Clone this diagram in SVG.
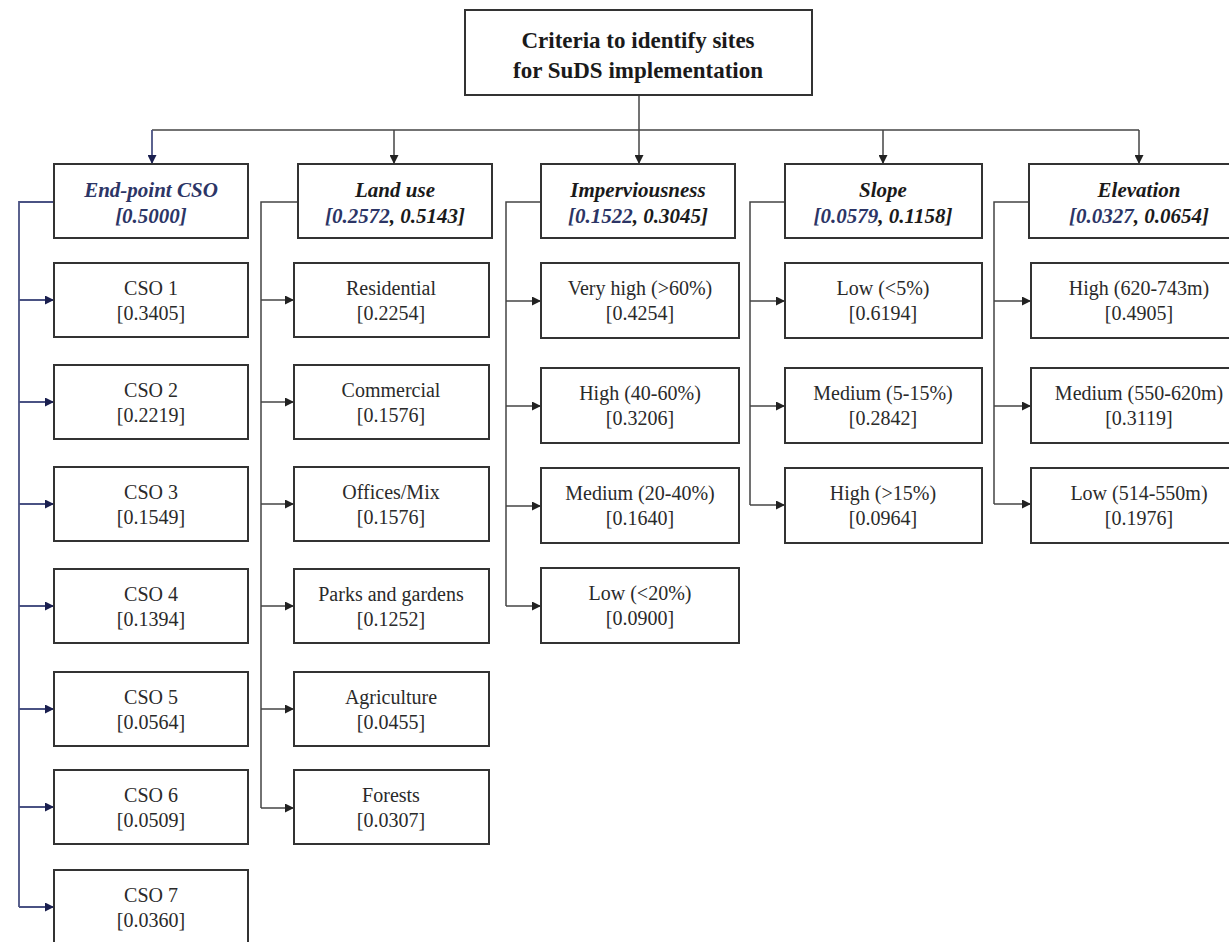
<svg xmlns="http://www.w3.org/2000/svg" width="1229" height="942" viewBox="0 0 1229 942">
<style>
.box{fill:#fff;stroke:#333;stroke-width:2}
text{font-family:'Liberation Serif','Tinos','Times New Roman','DejaVu Serif',serif}
.t{font-size:20px;fill:#2a2a2a;text-anchor:middle}
.h{font-size:21px;font-weight:bold;font-style:italic;fill:#1a1a1a;text-anchor:middle}
.nv{fill:#2c3566}
.ti{font-size:23px;font-weight:bold;fill:#1a1a1a;text-anchor:middle}
.c{fill:none;stroke:#444;stroke-width:1.5}
.cn{fill:none;stroke:#4a5283;stroke-width:1.8}
</style>
<defs>
<marker id="a" viewBox="0 0 10 10" refX="10" refY="5" markerWidth="9" markerHeight="9" markerUnits="userSpaceOnUse" orient="auto"><path d="M0,0L10,5L0,10z" fill="#222"/></marker>
<marker id="an" viewBox="0 0 10 10" refX="10" refY="5" markerWidth="9" markerHeight="9" markerUnits="userSpaceOnUse" orient="auto"><path d="M0,0L10,5L0,10z" fill="#1a1f4f"/></marker>
</defs>
<rect width="1229" height="942" fill="#fff"/>
<g id="connectors">
<path class="c" d="M639,95V164" marker-end="url(#a)"/>
<path class="c" d="M152,130H1139"/>
<path class="cn" d="M152,130V164" marker-end="url(#an)"/>
<path class="c" d="M394,130V164" marker-end="url(#a)"/>
<path class="c" d="M883,130V164" marker-end="url(#a)"/>
<path class="c" d="M1139,130V164" marker-end="url(#a)"/>
<path class="cn" d="M54,202H19V907"/>
<path class="cn" d="M19,300H54" marker-end="url(#an)"/>
<path class="cn" d="M19,402H54" marker-end="url(#an)"/>
<path class="cn" d="M19,504H54" marker-end="url(#an)"/>
<path class="cn" d="M19,606H54" marker-end="url(#an)"/>
<path class="cn" d="M19,709H54" marker-end="url(#an)"/>
<path class="cn" d="M19,807H54" marker-end="url(#an)"/>
<path class="cn" d="M19,907H54" marker-end="url(#an)"/>
<path class="c" d="M298,202H261V808"/>
<path class="c" d="M261,300H294" marker-end="url(#a)"/>
<path class="c" d="M261,402H294" marker-end="url(#a)"/>
<path class="c" d="M261,504H294" marker-end="url(#a)"/>
<path class="c" d="M261,606H294" marker-end="url(#a)"/>
<path class="c" d="M261,709H294" marker-end="url(#a)"/>
<path class="c" d="M261,808H294" marker-end="url(#a)"/>
<path class="c" d="M541,202H506V606"/>
<path class="c" d="M506,301H541" marker-end="url(#a)"/>
<path class="c" d="M506,406H541" marker-end="url(#a)"/>
<path class="c" d="M506,506H541" marker-end="url(#a)"/>
<path class="c" d="M506,606H541" marker-end="url(#a)"/>
<path class="c" d="M785,202H750V505"/>
<path class="c" d="M750,301H785" marker-end="url(#a)"/>
<path class="c" d="M750,406H785" marker-end="url(#a)"/>
<path class="c" d="M750,505H785" marker-end="url(#a)"/>
<path class="c" d="M1029,202H994V504"/>
<path class="c" d="M994,301H1031" marker-end="url(#a)"/>
<path class="c" d="M994,406H1031" marker-end="url(#a)"/>
<path class="c" d="M994,504H1031" marker-end="url(#a)"/>
</g>
<g id="root"><rect class="box" x="465" y="10" width="347" height="85"/><text class="ti" x="638" y="48">Criteria to identify sites</text><text class="ti" x="638" y="78">for SuDS implementation</text></g>
<g id="endpoint"><rect class="box" x="54" y="164" width="194" height="74"/><text class="h" x="151" y="197" style="fill:#2c3566">End-point CSO</text><text class="h" x="151" y="223" style="fill:#2c3566">[0.5000]</text></g>
<g id="landuse"><rect class="box" x="298" y="164" width="194" height="74"/><text class="h" x="395" y="197">Land use</text><text class="h" x="395" y="223"><tspan class="nv">[0.2572</tspan>, 0.5143]</text></g>
<g id="imperv"><rect class="box" x="541" y="164" width="194" height="74"/><text class="h" x="638" y="197">Imperviousness</text><text class="h" x="638" y="223"><tspan class="nv">[0.1522</tspan>, 0.3045]</text></g>
<g id="slope"><rect class="box" x="785" y="164" width="197" height="74"/><text class="h" x="883" y="197">Slope</text><text class="h" x="883" y="223"><tspan class="nv">[0.0579</tspan>, 0.1158]</text></g>
<g id="elevation"><rect class="box" x="1029" y="164" width="220" height="74"/><text class="h" x="1139" y="197">Elevation</text><text class="h" x="1139" y="223"><tspan class="nv">[0.0327</tspan>, 0.0654]</text></g>

<g id="cso1"><rect class="box" x="54" y="263" width="194" height="74"/><text class="t" x="151" y="295">CSO 1</text><text class="t" x="151" y="320">[0.3405]</text></g>
<g id="cso2"><rect class="box" x="54" y="365" width="194" height="74"/><text class="t" x="151" y="397">CSO 2</text><text class="t" x="151" y="422">[0.2219]</text></g>
<g id="cso3"><rect class="box" x="54" y="467" width="194" height="74"/><text class="t" x="151" y="499">CSO 3</text><text class="t" x="151" y="524">[0.1549]</text></g>
<g id="cso4"><rect class="box" x="54" y="569" width="194" height="74"/><text class="t" x="151" y="601">CSO 4</text><text class="t" x="151" y="626">[0.1394]</text></g>
<g id="cso5"><rect class="box" x="54" y="672" width="194" height="74"/><text class="t" x="151" y="704">CSO 5</text><text class="t" x="151" y="729">[0.0564]</text></g>
<g id="cso6"><rect class="box" x="54" y="770" width="194" height="74"/><text class="t" x="151" y="802">CSO 6</text><text class="t" x="151" y="827">[0.0509]</text></g>
<g id="cso7"><rect class="box" x="54" y="870" width="194" height="80"/><text class="t" x="151" y="902">CSO 7</text><text class="t" x="151" y="927">[0.0360]</text></g>

<g id="residential"><rect class="box" x="294" y="263" width="195" height="74"/><text class="t" x="391" y="295">Residential</text><text class="t" x="391" y="320">[0.2254]</text></g>
<g id="commercial"><rect class="box" x="294" y="365" width="195" height="74"/><text class="t" x="391" y="397">Commercial</text><text class="t" x="391" y="422">[0.1576]</text></g>
<g id="offices"><rect class="box" x="294" y="467" width="195" height="74"/><text class="t" x="391" y="499">Offices/Mix</text><text class="t" x="391" y="524">[0.1576]</text></g>
<g id="parks"><rect class="box" x="294" y="569" width="195" height="74"/><text class="t" x="391" y="601">Parks and gardens</text><text class="t" x="391" y="626">[0.1252]</text></g>
<g id="agriculture"><rect class="box" x="294" y="672" width="195" height="74"/><text class="t" x="391" y="704">Agriculture</text><text class="t" x="391" y="729">[0.0455]</text></g>
<g id="forests"><rect class="box" x="294" y="770" width="195" height="74"/><text class="t" x="391" y="802">Forests</text><text class="t" x="391" y="827">[0.0307]</text></g>

<g id="imp-vh"><rect class="box" x="541" y="263" width="198" height="75"/><text class="t" x="640" y="295">Very high (&gt;60%)</text><text class="t" x="640" y="320">[0.4254]</text></g>
<g id="imp-h"><rect class="box" x="541" y="368" width="198" height="75"/><text class="t" x="640" y="400">High (40-60%)</text><text class="t" x="640" y="425">[0.3206]</text></g>
<g id="imp-m"><rect class="box" x="541" y="468" width="198" height="75"/><text class="t" x="640" y="500">Medium (20-40%)</text><text class="t" x="640" y="525">[0.1640]</text></g>
<g id="imp-l"><rect class="box" x="541" y="568" width="198" height="75"/><text class="t" x="640" y="600">Low (&lt;20%)</text><text class="t" x="640" y="625">[0.0900]</text></g>

<g id="slope-l"><rect class="box" x="785" y="263" width="197" height="75"/><text class="t" x="883" y="295">Low (&lt;5%)</text><text class="t" x="883" y="320">[0.6194]</text></g>
<g id="slope-m"><rect class="box" x="785" y="368" width="197" height="75"/><text class="t" x="883" y="400">Medium (5-15%)</text><text class="t" x="883" y="425">[0.2842]</text></g>
<g id="slope-h"><rect class="box" x="785" y="468" width="197" height="75"/><text class="t" x="883" y="500">High (&gt;15%)</text><text class="t" x="883" y="525">[0.0964]</text></g>

<g id="elev-h"><rect class="box" x="1031" y="263" width="218" height="75"/><text class="t" x="1139" y="295">High (620-743m)</text><text class="t" x="1139" y="320">[0.4905]</text></g>
<g id="elev-m"><rect class="box" x="1031" y="368" width="218" height="75"/><text class="t" x="1139" y="400">Medium (550-620m)</text><text class="t" x="1139" y="425">[0.3119]</text></g>
<g id="elev-l"><rect class="box" x="1031" y="468" width="218" height="75"/><text class="t" x="1139" y="500">Low (514-550m)</text><text class="t" x="1139" y="525">[0.1976]</text></g>
</svg>
